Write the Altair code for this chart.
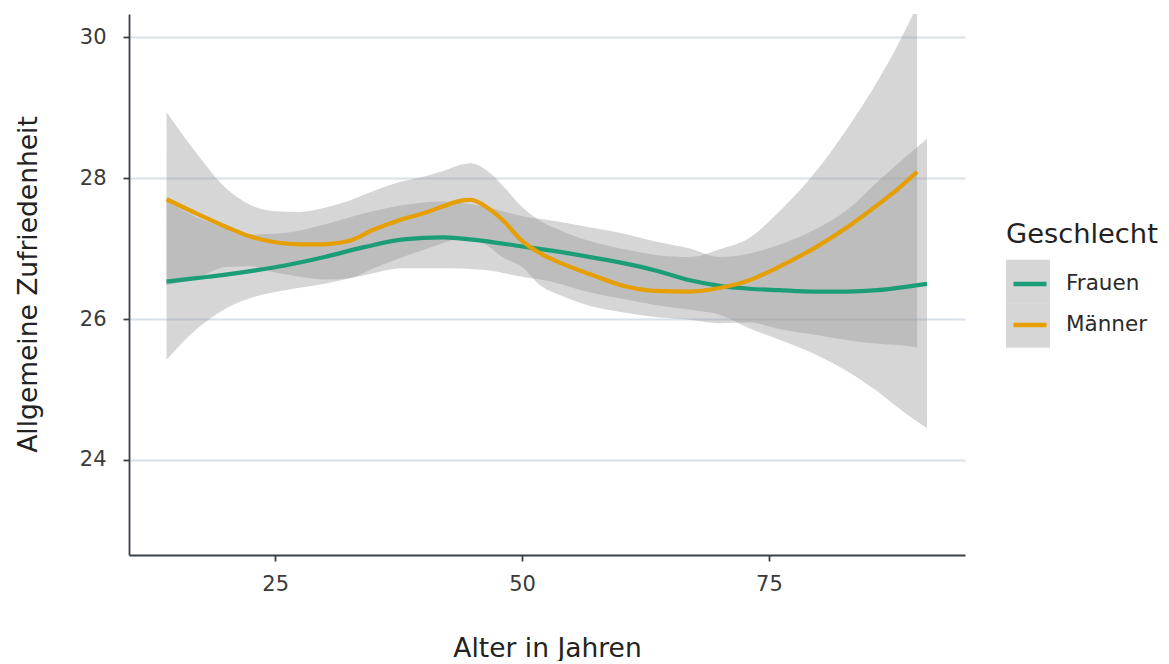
import altair as alt
import pandas as pd

groups = ["Frauen", "Männer"]
line_colors = ["#1b9e77", "#e69f00"]
x_ticks = [25, 50, 75]
y_ticks = [24, 26, 28, 30]

# Frauen: smoothed fit and confidence band
age_f = [14, 17, 20, 23, 26, 30, 34, 38, 42, 46, 50, 53, 56.5, 60, 63.5, 67, 70, 73, 76, 79.5, 83, 86, 89, 91]
fit_f = [26.53, 26.58, 26.63, 26.69, 26.76, 26.88, 27.02, 27.13, 27.16, 27.11, 27.03, 26.97, 26.89, 26.80,
         26.69, 26.55, 26.47, 26.43, 26.41, 26.39, 26.39, 26.41, 26.46, 26.50]
lo_f = [25.42, 25.85, 26.15, 26.32, 26.41, 26.50, 26.62, 26.72, 26.72, 26.70, 26.60, 26.53, 26.39, 26.29,
        26.20, 26.13, 26.06, 25.87, 25.71, 25.51, 25.25, 24.97, 24.64, 24.45]
hi_f = [27.68, 27.45, 27.30, 27.20, 27.22, 27.34, 27.50, 27.62, 27.67, 27.60, 27.46, 27.40, 27.31, 27.22,
        27.10, 27.00, 26.88, 26.93, 27.05, 27.26, 27.56, 27.95, 28.32, 28.56]

# Männer: smoothed fit and confidence band
age_m = [14, 17, 20, 22.5, 25, 27.5, 30, 32.5, 35, 37.5, 40, 42, 43.5, 44.8, 46.5, 48, 50, 52, 54, 57, 60,
         63.5, 67, 70, 73, 76, 79.5, 83, 86, 88, 90]
fit_m = [27.70, 27.50, 27.31, 27.17, 27.09, 27.06, 27.06, 27.11, 27.27, 27.40, 27.50, 27.60, 27.67, 27.69,
         27.58, 27.41, 27.11, 26.92, 26.79, 26.63, 26.48, 26.40, 26.39, 26.44, 26.55, 26.74, 27.00, 27.31,
         27.62, 27.84, 28.09]
lo_m = [26.48, 26.58, 26.74, 26.75, 26.66, 26.60, 26.56, 26.58, 26.72, 26.86, 26.98, 27.08, 27.14, 27.16,
        27.04, 26.88, 26.74, 26.46, 26.33, 26.18, 26.10, 26.03, 25.99, 25.94, 25.95, 25.86, 25.78, 25.70,
        25.65, 25.63, 25.60]
hi_m = [28.94, 28.36, 27.86, 27.62, 27.53, 27.52, 27.58, 27.68, 27.82, 27.94, 28.02, 28.10, 28.18, 28.21,
        28.10, 27.90, 27.59, 27.38, 27.25, 27.10, 27.00, 26.91, 26.88, 26.99, 27.15, 27.52, 28.05, 28.72,
        29.38, 29.88, 30.45]

df = pd.concat([
    pd.DataFrame({"Alter": age_f, "fit": fit_f, "lo": lo_f, "hi": hi_f, "Geschlecht": groups[0]}),
    pd.DataFrame({"Alter": age_m, "fit": fit_m, "lo": lo_m, "hi": hi_m, "Geschlecht": groups[1]}),
], ignore_index=True)
df["Band"] = df["Geschlecht"]

FONT = "DejaVu Sans"
AXIS_COL = "#3b4046"

x_scale = alt.Scale(domain=[10.2, 94.85], nice=False, zero=False)
y_scale = alt.Scale(domain=[22.65, 30.33], nice=False, zero=False)

x_axis = alt.Axis(values=x_ticks, title="Alter in Jahren", grid=False, domainColor=AXIS_COL,
                  domainWidth=1.8, tickColor=AXIS_COL, tickWidth=1.8, tickSize=6,
                  labelFont=FONT, labelFontSize=21, labelColor="#3a3a3a", labelPadding=12,
                  titleFont=FONT, titleFontSize=26.5, titleFontWeight="normal", titleColor="#222222",
                  titleX=418, titleY=101, titleBaseline="alphabetic", titleAlign="center")
y_axis = alt.Axis(values=y_ticks, title="Allgemeine Zufriedenheit", grid=True, gridColor="#d8e0e9",
                  gridWidth=1.8, domainColor=AXIS_COL, domainWidth=1.8, tickColor=AXIS_COL,
                  tickWidth=1.8, tickSize=6, labelFont=FONT, labelFontSize=21, labelColor="#3a3a3a",
                  labelPadding=17, titleFont=FONT, titleFontSize=26.5, titleFontWeight="normal",
                  titleColor="#222222", titleX=-101, titleY=270, titleAngle=270,
                  titleBaseline="middle", titleAlign="center")

# fill scale uses a data-driven domain so that its legend is not merged with the stroke legend
bands = alt.Chart(df).mark_area(opacity=0.4, clip=True, interpolate="monotone").encode(
    x=alt.X("Alter:Q", scale=x_scale, axis=x_axis),
    y=alt.Y("lo:Q", scale=y_scale, axis=y_axis),
    y2="hi:Q",
    fill=alt.Fill("Band:N",
                  scale=alt.Scale(range=["#999999", "#999999"]),
                  legend=alt.Legend(title="Geschlecht", orient="none", legendX=877, legendY=207,
                                    symbolType="square", symbolSize=1936, symbolOpacity=0.4,
                                    symbolStrokeWidth=0, symbolOffset=0, labelExpr="''",
                                    labelFontSize=1, rowPadding=0, padding=0, titleFont=FONT,
                                    titleFontSize=27.3, titleFontWeight="normal",
                                    titleColor="#222222", titlePadding=11.5)),
)

lines = alt.Chart(df).mark_line(strokeWidth=4.2, clip=True, interpolate="monotone").encode(
    x=alt.X("Alter:Q", scale=x_scale, axis=x_axis),
    y=alt.Y("fit:Q", scale=y_scale, axis=y_axis),
    stroke=alt.Stroke("Geschlecht:N",
                      scale=alt.Scale(domain=groups, range=line_colors),
                      legend=alt.Legend(title=None, orient="none", legendX=882, legendY=251,
                                        symbolType="stroke", symbolSize=1089, symbolStrokeWidth=4.5,
                                        symbolOffset=0, rowPadding=11, padding=0, labelOffset=17,
                                        labelFont=FONT, labelFontSize=21.5, labelColor="#2a2a2a")),
)

chart = alt.layer(bands, lines).properties(
    width=836, height=541,
    autosize="none",
    padding={"left": 121, "top": 6, "right": 196, "bottom": 106},
    background="white",
).configure_view(stroke=None)

chart.save("out.html", embed_options={"renderer": "svg", "actions": False})
